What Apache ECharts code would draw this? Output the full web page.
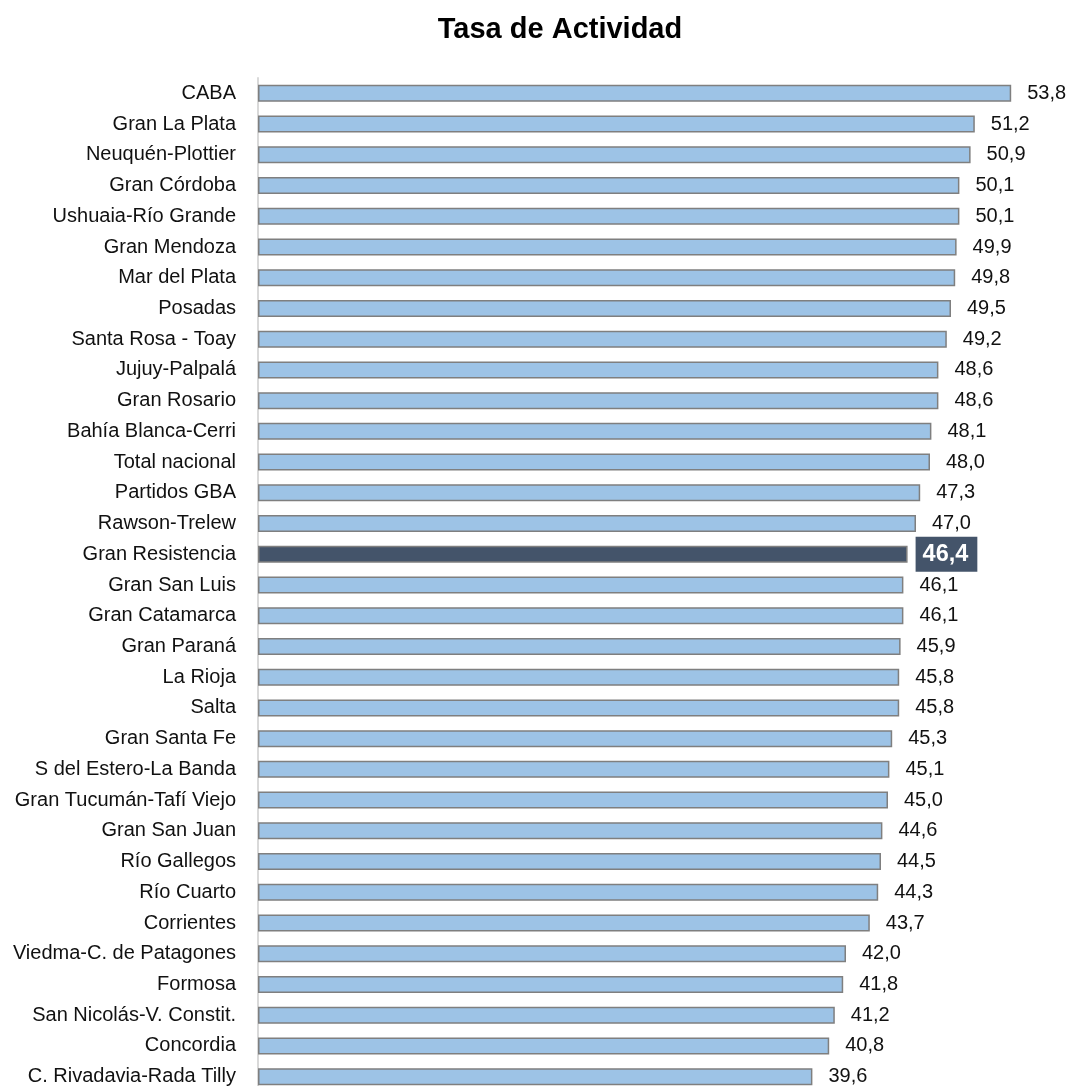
<!DOCTYPE html>
<html>
<head>
<meta charset="utf-8">
<script src="https://cdn.jsdelivr.net/npm/echarts@6/dist/echarts.min.js"></script>
<style>
  html, body { margin: 0; padding: 0; background: #fff; overflow: hidden; }
  #chart { width: 1073px; height: 1100px; }
</style>
</head>
<body>
<div id="chart"></div>
<script>
// aglomerados (de arriba hacia abajo)
var categories = [
    'CABA', 'Gran La Plata', 'Neuquén-Plottier', 'Gran Córdoba', 'Ushuaia-Río Grande',
    'Gran Mendoza', 'Mar del Plata', 'Posadas', 'Santa Rosa - Toay', 'Jujuy-Palpalá',
    'Gran Rosario', 'Bahía Blanca-Cerri', 'Total nacional', 'Partidos GBA', 'Rawson-Trelew',
    'Gran Resistencia', 'Gran San Luis', 'Gran Catamarca', 'Gran Paraná', 'La Rioja',
    'Salta', 'Gran Santa Fe', 'S del Estero-La Banda', 'Gran Tucumán-Tafí Viejo', 'Gran San Juan',
    'Río Gallegos', 'Río Cuarto', 'Corrientes', 'Viedma-C. de Patagones', 'Formosa',
    'San Nicolás-V. Constit.', 'Concordia', 'C. Rivadavia-Rada Tilly'
];

// tasa de actividad (%)
var values = [
    53.8, 51.2, 50.9, 50.1, 50.1,
    49.9, 49.8, 49.5, 49.2, 48.6,
    48.6, 48.1, 48.0, 47.3, 47.0,
    46.4, 46.1, 46.1, 45.9, 45.8,
    45.8, 45.3, 45.1, 45.0, 44.6,
    44.5, 44.3, 43.7, 42.0, 41.8,
    41.2, 40.8, 39.6
];

var highlight = 'Gran Resistencia';

var fontFamily = '"Liberation Sans", Arial, sans-serif';

function fmt(v) {
    return v.toFixed(1).replace('.', ',');
}

var chart = echarts.init(document.getElementById('chart'));

// el aglomerado destacado va en color oscuro con etiqueta recuadrada
var seriesData = values.map(function(v, i) {
    if (categories[i] === highlight) {
        return {
            value: v,
            itemStyle: { color: '#44546a', borderColor: '#7f7f7f' },
            label: {
                color: '#fff',
                fontWeight: 'bold',
                fontSize: 23.5,
                backgroundColor: '#44546a',
                padding: [6, 9, 5, 7],
                distance: 8
            }
        };
    }
    return v;
});

chart.setOption({
    animation: false,
    title: {
        text: 'Tasa de Actividad',
        left: 555,
        top: 10,
        textAlign: 'center',
        textStyle: {
            fontFamily: fontFamily,
            fontSize: 29,
            fontWeight: 'bold',
            color: '#000'
        }
    },
    // el gráfico original queda recortado abajo (el div es más alto que la ventana)
    grid: {
        left: 258,
        right: 45,
        top: 78,
        height: 1014,
        containLabel: false
    },
    xAxis: {
        type: 'value',
        min: 0,
        max: 55,
        show: false
    },
    yAxis: {
        type: 'category',
        data: categories,
        inverse: true,
        axisLine: { show: true, lineStyle: { color: '#d9d9d9', width: 2 } },
        axisTick: { show: false },
        axisLabel: {
            fontFamily: fontFamily,
            fontSize: 20,
            color: '#111',
            margin: 22
        }
    },
    series: [{
        type: 'bar',
        data: seriesData,
        barWidth: 17,
        itemStyle: {
            color: '#9dc3e6',
            borderColor: '#7f7f7f',
            borderWidth: 1.5
        },
        label: {
            show: true,
            position: 'right',
            distance: 16,
            fontFamily: fontFamily,
            fontSize: 20,
            color: '#111',
            formatter: function(p) { return fmt(p.value); }
        }
    }]
});
</script>
</body>
</html>
